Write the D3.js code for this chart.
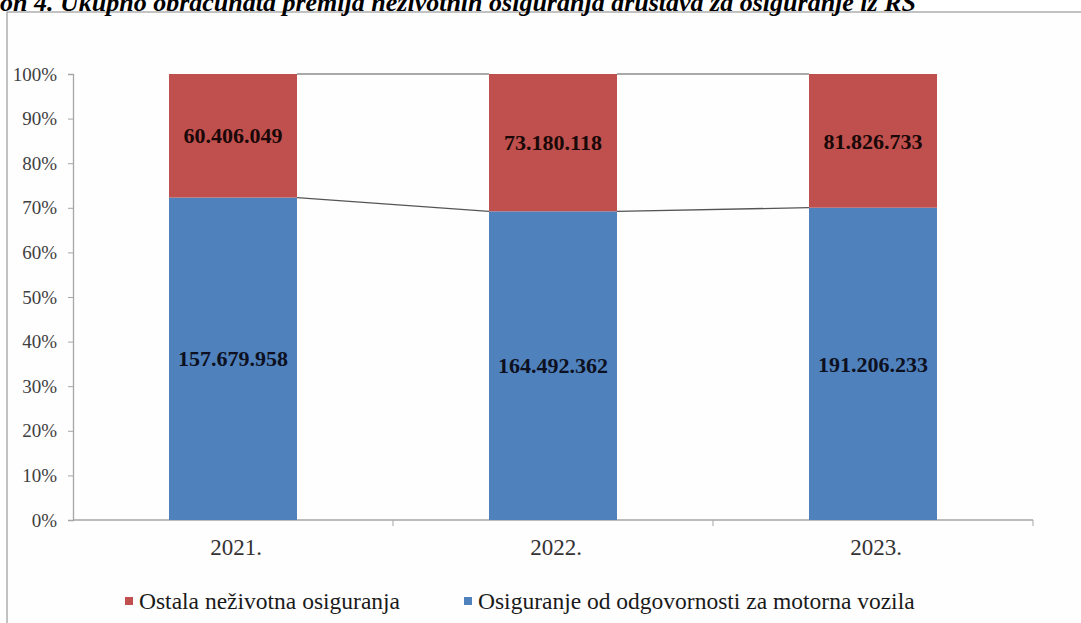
<!DOCTYPE html>
<html>
<head>
<meta charset="utf-8">
<script src="https://cdn.jsdelivr.net/npm/d3@7"></script>
<style>
  html, body { margin: 0; padding: 0; background: #ffffff; }
  svg { display: block; }
</style>
</head>
<body>
<svg id="chart" width="1081" height="623"></svg>
<script>
// ---- data ----
const titleText = "on 4. Ukupno obračunata premija neživotnih osiguranja društava za osiguranje iz RS";
const categories = ["2021.", "2022.", "2023."];
const seriesNames = ["Osiguranje od odgovornosti za motorna vozila", "Ostala neživotna osiguranja"];
const motorValues = [157679958, 164492362, 191206233];
const otherValues = [60406049, 73180118, 81826733];
const yTickValues = [0, 0.1, 0.2, 0.3, 0.4, 0.5, 0.6, 0.7, 0.8, 0.9, 1.0];
const seriesColors = ["#4F81BD", "#C0504D"];

const svg = d3.select("#chart");
const W = 1081, H = 623;
const serif = "'Liberation Serif', 'Times New Roman', serif";

svg.append("rect").attr("width", W).attr("height", H).attr("fill", "#ffffff");

// outer chart frame with light shadow
svg.append("rect").attr("x", 9).attr("y", 14).attr("width", 1100).attr("height", 700)
  .attr("fill", "none").attr("stroke", "#e4e4e4").attr("stroke-width", 3);
svg.append("rect").attr("x", 7).attr("y", 12).attr("width", 1100).attr("height", 700)
  .attr("fill", "#fefefe").attr("stroke", "#9a9a9a").attr("stroke-width", 1.2);

// title (cropped at top in reference)
svg.append("text")
  .attr("x", 0).attr("y", 11)
  .attr("font-family", serif).attr("font-size", 26)
  .attr("font-weight", "bold").attr("font-style", "italic")
  .attr("fill", "#000")
  .text(titleText);

// scales
const x = d3.scaleBand().domain(categories).range([73, 1033]).paddingInner(0.6).paddingOuter(0.3);
const y = d3.scaleLinear().domain([0, 1]).range([520, 74]);

const data = categories.map((c, i) => {
  const total = motorValues[i] + otherValues[i];
  return { cat: c, motor: motorValues[i], other: otherValues[i], pm: motorValues[i] / total };
});

// y axis
const yAxis = d3.axisLeft(y).tickValues(yTickValues).tickFormat(d3.format(".0%")).tickSize(5).tickPadding(11);
const gy = svg.append("g").attr("transform", "translate(73,0)").call(yAxis);
gy.select(".domain").attr("stroke", "#a6a6a6").attr("stroke-width", 1.3);
gy.selectAll(".tick line").attr("stroke", "#a6a6a6");
gy.selectAll(".tick text").attr("font-family", serif).attr("font-size", 19).attr("fill", "#404040");

// x axis
const gx = svg.append("g").attr("transform", "translate(0,520)");
gx.append("line").attr("x1", 73).attr("x2", 1033).attr("y1", 0).attr("y2", 0)
  .attr("stroke", "#a6a6a6").attr("stroke-width", 1.3);
const boundaries = categories.map(c => x(c) + x.bandwidth() + x.step() * 0.3);
gx.selectAll("line.tk").data(boundaries).join("line").attr("class", "tk")
  .attr("x1", d => d).attr("x2", d => d).attr("y1", 0).attr("y2", 6)
  .attr("stroke", "#a6a6a6");
gx.selectAll("text").data(categories).join("text")
  .attr("x", d => x(d) + x.bandwidth() / 2 + 3).attr("y", 35)
  .attr("text-anchor", "middle")
  .attr("font-family", serif).attr("font-size", 23).attr("fill", "#333")
  .text(d => d);

// series lines (connectors)
const connectors = [];
for (let i = 0; i < data.length - 1; i++) {
  connectors.push({ x1: x(data[i].cat) + x.bandwidth(), x2: x(data[i + 1].cat), v1: data[i].pm, v2: data[i + 1].pm, col: "#555" });
  connectors.push({ x1: x(data[i].cat) + x.bandwidth(), x2: x(data[i + 1].cat), v1: 1, v2: 1, col: "#8c8c8c" });
}
svg.selectAll("line.conn").data(connectors).join("line").attr("class", "conn")
  .attr("x1", d => d.x1).attr("x2", d => d.x2)
  .attr("y1", d => y(d.v1)).attr("y2", d => y(d.v2))
  .attr("stroke", d => d.col).attr("stroke-width", 1.3);

// bars
const bars = svg.append("g");
bars.selectAll("rect.motor").data(data).join("rect").attr("class", "motor")
  .attr("x", d => x(d.cat)).attr("width", x.bandwidth())
  .attr("y", d => y(d.pm)).attr("height", d => y(0) - y(d.pm))
  .attr("fill", seriesColors[0]);
bars.selectAll("rect.other").data(data).join("rect").attr("class", "other")
  .attr("x", d => x(d.cat)).attr("width", x.bandwidth())
  .attr("y", d => y(1)).attr("height", d => y(d.pm) - y(1))
  .attr("fill", seriesColors[1]);

// value labels
const fmt = v => d3.format(",")(v).replace(/,/g, ".");
bars.selectAll("text.lm").data(data).join("text").attr("class", "lm")
  .attr("x", d => x(d.cat) + x.bandwidth() / 2)
  .attr("y", d => y(d.pm / 2)).attr("dy", "0.35em")
  .attr("text-anchor", "middle")
  .attr("font-family", serif).attr("font-size", 22).attr("font-weight", "bold")
  .attr("fill", "#0d1020")
  .text(d => fmt(d.motor));
bars.selectAll("text.lo").data(data).join("text").attr("class", "lo")
  .attr("x", d => x(d.cat) + x.bandwidth() / 2)
  .attr("y", d => y((1 + d.pm) / 2)).attr("dy", "0.35em")
  .attr("text-anchor", "middle")
  .attr("font-family", serif).attr("font-size", 22).attr("font-weight", "bold")
  .attr("fill", "#1a0808")
  .text(d => fmt(d.other));

// legend
const legendItems = [
  { name: seriesNames[1], color: seriesColors[1], x: 125 },
  { name: seriesNames[0], color: seriesColors[0], x: 464 }
];
const lg = svg.append("g");
lg.selectAll("rect").data(legendItems).join("rect")
  .attr("x", d => d.x).attr("y", 597).attr("width", 8).attr("height", 8)
  .attr("fill", d => d.color);
lg.selectAll("text").data(legendItems).join("text")
  .attr("x", d => d.x + 14).attr("y", 609)
  .attr("font-family", serif).attr("font-size", 23.5).attr("fill", "#1a1a1a")
  .text(d => d.name);
</script>
</body>
</html>
